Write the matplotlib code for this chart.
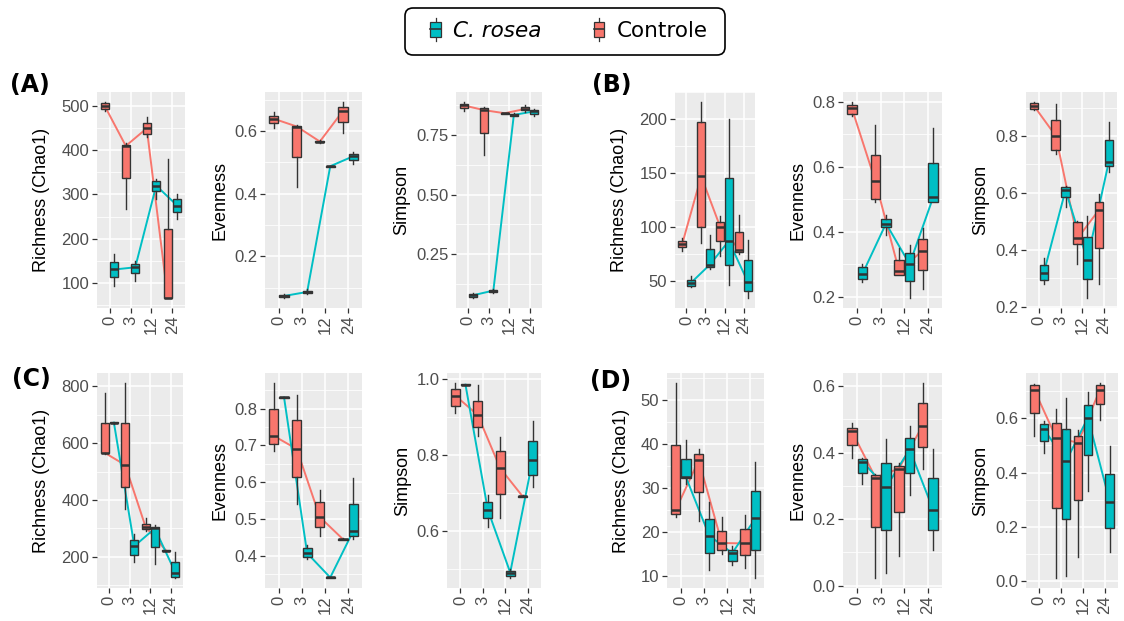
import numpy as np
import matplotlib
matplotlib.use('Agg')
import matplotlib.pyplot as plt
from matplotlib.patches import Rectangle, Patch, FancyBboxPatch
from matplotlib.lines import Line2D
from matplotlib.legend_handler import HandlerBase
from matplotlib.ticker import MultipleLocator, FormatStrFormatter

plt.rcParams['font.family'] = ['Liberation Sans', 'DejaVu Sans']

# ---------------- data ----------------
times = [0, 3, 12, 24]
time_labels = ['0', '3', '12', '24']
group_labels = ['C. rosea', 'Controle']
COL_ROSEA = '#00BFC4'
COL_CTRL = '#F8766D'

# each row: [whisker low, Q1, median, Q3, whisker high] for times 0, 3, 12, 24
A_rich_ctrl = [[490, 493, 500, 507, 510], [266, 338, 410, 413, 416], [430, 437, 450, 462, 475], [65, 65, 66, 222, 380]]
A_rich_rosea = [[92, 112, 130, 146, 165], [105, 123, 135, 143, 150], [290, 309, 320, 331, 335], [245, 260, 275, 290, 300]]
A_even_ctrl = [[0.61, 0.627, 0.64, 0.65, 0.66], [0.42, 0.518, 0.615, 0.618, 0.62], [0.562, 0.564, 0.567, 0.569, 0.571], [0.594, 0.63, 0.665, 0.676, 0.694]]
A_even_rosea = [[0.066, 0.069, 0.073, 0.076, 0.079], [0.079, 0.082, 0.086, 0.09, 0.095], [0.485, 0.486, 0.488, 0.489, 0.49], [0.495, 0.508, 0.52, 0.528, 0.535]]
A_simp_ctrl = [[0.85, 0.862, 0.875, 0.882, 0.89], [0.665, 0.76, 0.855, 0.862, 0.87], [0.838, 0.84, 0.842, 0.843, 0.845], [0.848, 0.854, 0.86, 0.867, 0.875]]
A_simp_rosea = [[0.065, 0.071, 0.077, 0.081, 0.085], [0.088, 0.092, 0.097, 0.101, 0.105], [0.829, 0.832, 0.835, 0.838, 0.841], [0.83, 0.84, 0.85, 0.855, 0.86]]

B_rich_ctrl = [[78, 81, 84, 87, 90], [85, 100, 147, 197, 216], [73, 87, 100, 105, 110], [75, 77, 79, 95, 111]]
B_rich_rosea = [[44, 45.5, 48, 51, 55], [61, 63, 65, 80, 93], [46, 65, 87, 145, 200], [34, 41, 49, 69, 88]]
B_even_ctrl = [[0.755, 0.762, 0.78, 0.79, 0.8], [0.49, 0.502, 0.555, 0.636, 0.73], [0.265, 0.267, 0.28, 0.314, 0.35], [0.223, 0.282, 0.341, 0.377, 0.41]]
B_even_rosea = [[0.245, 0.255, 0.27, 0.29, 0.3], [0.39, 0.413, 0.425, 0.439, 0.45], [0.195, 0.247, 0.3, 0.335, 0.36], [0.49, 0.49, 0.506, 0.613, 0.72]]
B_simp_ctrl = [[0.89, 0.895, 0.905, 0.915, 0.92], [0.735, 0.75, 0.8, 0.855, 0.912], [0.35, 0.42, 0.44, 0.496, 0.5], [0.279, 0.408, 0.541, 0.567, 0.597]]
B_simp_rosea = [[0.28, 0.295, 0.32, 0.345, 0.37], [0.55, 0.585, 0.61, 0.62, 0.625], [0.23, 0.296, 0.364, 0.444, 0.52], [0.675, 0.694, 0.71, 0.785, 0.85]]

C_rich_ctrl = [[560, 565, 566, 670, 775], [368, 447, 523, 669, 812], [290, 297, 305, 315, 335], [220, 221, 222, 223, 224]]
C_rich_rosea = [[668, 670, 672, 673, 675], [182, 205, 238, 258, 281], [176, 235, 300, 305, 311], [125, 130, 145, 182, 217]]
C_even_ctrl = [[0.684, 0.703, 0.726, 0.8, 0.87], [0.542, 0.615, 0.69, 0.768, 0.838], [0.455, 0.477, 0.505, 0.545, 0.58], [0.443, 0.444, 0.445, 0.446, 0.447]]
C_even_rosea = [[0.828, 0.829, 0.83, 0.831, 0.832], [0.39, 0.398, 0.407, 0.42, 0.43], [0.339, 0.34, 0.341, 0.342, 0.343], [0.445, 0.454, 0.468, 0.541, 0.61]]
C_simp_ctrl = [[0.91, 0.93, 0.956, 0.974, 0.99], [0.85, 0.874, 0.905, 0.943, 0.985], [0.635, 0.698, 0.765, 0.809, 0.847], [0.689, 0.69, 0.691, 0.692, 0.693]]
C_simp_rosea = [[0.983, 0.984, 0.985, 0.986, 0.987], [0.61, 0.635, 0.655, 0.675, 0.695], [0.475, 0.482, 0.49, 0.495, 0.5], [0.715, 0.747, 0.786, 0.837, 0.89]]

D_rich_ctrl = [[23.5, 24.3, 25.1, 39.8, 54], [22.5, 29.2, 36.4, 37.9, 39], [15, 16.1, 17.6, 20.4, 23.5], [12, 14.8, 17.5, 20.7, 24]]
D_rich_rosea = [[31, 32.3, 32.5, 36.6, 41], [11.5, 15.3, 19.3, 23, 27], [12.5, 13.6, 15.3, 16.1, 17], [9.6, 16.1, 23.2, 29.5, 36]]
D_even_ctrl = [[0.385, 0.424, 0.464, 0.474, 0.49], [0.022, 0.176, 0.325, 0.332, 0.335], [0.09, 0.22, 0.352, 0.36, 0.37], [0.352, 0.417, 0.481, 0.548, 0.61]]
D_even_rosea = [[0.305, 0.34, 0.373, 0.38, 0.385], [0.037, 0.166, 0.295, 0.368, 0.44], [0.272, 0.34, 0.41, 0.443, 0.48], [0.106, 0.166, 0.228, 0.323, 0.41]]
D_simp_ctrl = [[0.535, 0.62, 0.705, 0.72, 0.725], [0.012, 0.269, 0.528, 0.584, 0.633], [0.09, 0.3, 0.51, 0.535, 0.555], [0.593, 0.652, 0.705, 0.72, 0.73]]
D_simp_rosea = [[0.473, 0.516, 0.559, 0.578, 0.59], [0.022, 0.228, 0.441, 0.559, 0.673], [0.333, 0.466, 0.602, 0.649, 0.697], [0.108, 0.196, 0.293, 0.394, 0.497]]

ylabels = ['Richness (Chao1)', 'Evenness', 'Simpson']
panel_letters = ['(A)', '(B)', '(C)', '(D)']

# ---------------- figure ----------------
W, H = 1124, 621
fig = plt.figure(figsize=(W / 100, H / 100), dpi=100)

EDGE = '#333333'
OFF = 0.225
BW = 0.40


def panel(rect, ctrl, rosea, ylabel, step, fmt, lpad=4):
    x0, x1, y0, y1 = rect
    ax = fig.add_axes([x0 / W, 1 - y1 / H, (x1 - x0) / W, (y1 - y0) / H])
    ax.set_facecolor('#EBEBEB')
    for s in ax.spines.values():
        s.set_visible(False)
    xs = np.arange(len(times))
    for data, off, col in [(ctrl, -OFF, COL_CTRL), (rosea, OFF, COL_ROSEA)]:
        meds = [d[2] for d in data]
        ax.plot(xs + off, meds, color=col, lw=1.4, zorder=2)
        stats = [dict(whislo=d[0], q1=d[1], med=d[2], q3=d[3], whishi=d[4], fliers=[]) for d in data]
        ax.bxp(stats, positions=xs + off, widths=BW, patch_artist=True,
               showcaps=False, showfliers=False, manage_ticks=False,
               boxprops=dict(facecolor=col, edgecolor=EDGE, lw=1.0),
               medianprops=dict(color=EDGE, lw=1.8),
               whiskerprops=dict(color=EDGE, lw=1.0), zorder=3)
    allv = [v for d in ctrl + rosea for v in d]
    lo, hi = min(allv), max(allv)
    r = hi - lo
    ax.set_ylim(lo - 0.05 * r, hi + 0.05 * r)
    ax.set_xlim(-0.6, 3.6)
    ax.set_xticks(xs)
    ax.set_xticklabels(time_labels, rotation=90)
    ax.yaxis.set_major_locator(MultipleLocator(step))
    ax.yaxis.set_minor_locator(MultipleLocator(step / 2))
    ax.yaxis.set_major_formatter(FormatStrFormatter(fmt))
    ax.grid(True, which='major', color='white', lw=1.1)
    ax.grid(True, which='minor', axis='y', color='white', lw=0.55)
    ax.set_axisbelow(True)
    ax.tick_params(which='major', length=3.5, width=0.9, color=EDGE,
                   labelcolor='#4D4D4D', labelsize=12, pad=2)
    ax.tick_params(which='minor', length=0)
    ax.set_ylabel(ylabel, fontsize=13, labelpad=lpad)
    return ax


R1 = (92, 308)
R2 = (373, 588)
panel((97, 185) + R1, A_rich_ctrl, A_rich_rosea, ylabels[0], 100, '%d', 8)
panel((265, 362) + R1, A_even_ctrl, A_even_rosea, ylabels[1], 0.2, '%.1f')
panel((456, 542) + R1, A_simp_ctrl, A_simp_rosea, ylabels[2], 0.25, '%.2f')
panel((675, 755) + R1, B_rich_ctrl, B_rich_rosea, ylabels[0], 50, '%d', 8)
panel((843, 942) + R1, B_even_ctrl, B_even_rosea, ylabels[1], 0.2, '%.1f')
panel((1026, 1117) + R1, B_simp_ctrl, B_simp_rosea, ylabels[2], 0.2, '%.1f')
panel((97, 183) + R2, C_rich_ctrl, C_rich_rosea, ylabels[0], 200, '%d', 8)
panel((265, 362) + R2, C_even_ctrl, C_even_rosea, ylabels[1], 0.1, '%.1f')
panel((447, 541) + R2, C_simp_ctrl, C_simp_rosea, ylabels[2], 0.2, '%.1f')
panel((667, 764) + R2, D_rich_ctrl, D_rich_rosea, ylabels[0], 10, '%d', 8)
panel((843, 942) + R2, D_even_ctrl, D_even_rosea, ylabels[1], 0.2, '%.1f')
panel((1026, 1118) + R2, D_simp_ctrl, D_simp_rosea, ylabels[2], 0.2, '%.1f')

for lab, (px, py) in zip(panel_letters, [(10, 85), (592, 85), (12, 379), (590, 381)]):
    fig.text(px / W, 1 - py / H, lab, fontsize=17, fontweight='bold',
             family='DejaVu Sans', ha='left', va='center')


class BoxKey(HandlerBase):
    def create_artists(self, legend, orig_handle, xdescent, ydescent,
                       width, height, fontsize, trans):
        col = orig_handle.get_facecolor()
        x0, y0 = -xdescent, -ydescent
        cx = x0 + width / 2
        bw = width
        wl = Line2D([cx, cx], [y0, y0 + 0.2 * height], color=EDGE, lw=0.9, transform=trans)
        wh = Line2D([cx, cx], [y0 + 0.8 * height, y0 + height], color=EDGE, lw=0.9, transform=trans)
        rect = Rectangle((cx - bw / 2, y0 + 0.2 * height), bw, 0.6 * height,
                         facecolor=col, edgecolor=EDGE, lw=0.9, transform=trans)
        md = Line2D([cx - bw / 2, cx + bw / 2], [y0 + 0.5 * height] * 2, color=EDGE, lw=1.2, transform=trans)
        return [wl, wh, rect, md]


# legend frame (pixel geometry of the reference)
frame = FancyBboxPatch((405 / 100, (H - 55) / 100), 320 / 100, 47 / 100,
                       boxstyle='round,pad=0,rounding_size=0.08',
                       transform=fig.dpi_scale_trans, facecolor='white',
                       edgecolor='black', lw=1.2)
fig.patches.append(frame)

handles = [Patch(facecolor=COL_ROSEA), Patch(facecolor=COL_CTRL)]
leg = fig.legend(handles, group_labels, loc='center',
                 bbox_to_anchor=(569 / W, 1 - 29.5 / H), ncol=2, frameon=False,
                 handler_map={Patch: BoxKey()},
                 prop={'family': 'DejaVu Sans', 'size': 15.5},
                 handlelength=0.47, handleheight=1.3, columnspacing=2.4,
                 handletextpad=0.6, borderpad=0, borderaxespad=0)
leg.get_texts()[0].set_style('italic')

fig.savefig('out.png', dpi=100)
